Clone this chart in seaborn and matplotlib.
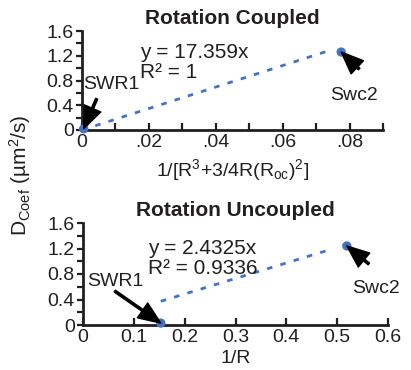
import matplotlib
matplotlib.use("Agg")
import matplotlib.pyplot as plt
import seaborn as sns
import numpy as np
import pandas as pd

# data
proteins = ["SWR1", "Swc2"]
coupled_x = [0.0005, 0.0775]
coupled_y = [0.02, 1.26]
coupled_slope = 17.359
coupled_r2 = "1"
coupled_trend_x = [0.0, 0.0735]

uncoupled_x = [0.153, 0.519]
uncoupled_y = [0.03, 1.24]
uncoupled_slope = 2.4325
uncoupled_r2 = "0.9336"
uncoupled_trend_x = [0.153, 0.49]

dot_blue = "#4472C4"
ink = "#231F20"

sns.set_style("ticks")
plt.rcParams["font.family"] = ["Liberation Sans", "DejaVu Sans"]
plt.rcParams["mathtext.fontset"] = "custom"
plt.rcParams["mathtext.rm"] = "Liberation Sans"
plt.rcParams["mathtext.it"] = "Liberation Sans:italic"
plt.rcParams["text.color"] = ink
plt.rcParams["axes.labelcolor"] = ink

fig = plt.figure(figsize=(4.11, 3.70), dpi=100)
ax1 = fig.add_axes([82 / 411, 1 - 130 / 370, 301 / 411, 99 / 370])
ax2 = fig.add_axes([83 / 411, 1 - 325 / 370, 305 / 411, 102 / 370])


def draw_panel(ax, xs, ys, slope, x_trend, title, xlabel, labelpad):
    df = pd.DataFrame({"x": xs, "y": ys, "name": proteins})
    trend = pd.DataFrame({"x": x_trend, "y": slope * np.array(x_trend)})
    sns.lineplot(data=trend, x="x", y="y", ax=ax, color=dot_blue, lw=2,
                 linestyle=(0, (2, 3)))
    sns.scatterplot(data=df, x="x", y="y", ax=ax, color=dot_blue, s=45,
                    edgecolor="none", zorder=5, clip_on=False)
    sns.despine(ax=ax)
    for side in ["left", "bottom"]:
        ax.spines[side].set_linewidth(2)
        ax.spines[side].set_color(ink)
    ax.set_ylim(0, 1.6)
    ax.set_yticks([0, 0.4, 0.8, 1.2, 1.6])
    ax.set_yticklabels(["0", "0.4", "0.8", "1.2", "1.6"])
    ax.set_yticks(np.arange(0, 1.61, 0.2), minor=True)
    ax.tick_params(axis="y", which="both", direction="out", length=4, width=1.6,
                   labelsize=14, pad=2, color=ink, labelcolor=ink)
    ax.tick_params(axis="x", which="both", direction="in", length=5, width=1.6,
                   labelsize=14, pad=3, color=ink, labelcolor=ink)
    ax.set_xlabel(xlabel, fontsize=14, labelpad=labelpad)
    ax.set_ylabel("")
    ax.set_title(title, fontsize=15, fontweight="bold", pad=5)
    return df


df1 = draw_panel(ax1, coupled_x, coupled_y, coupled_slope, coupled_trend_x,
                 "Rotation Coupled", r"1/[R$^3$+3/4R(R$_{\mathrm{oc}}$)$^2$]", 4)
ax1.set_xlim(0, 0.09)
ax1.set_xticks(np.arange(0, 0.0901, 0.01))
ax1.set_xticklabels(["0", "", ".02", "", ".04", "", ".06", "", ".08", ""])

df2 = draw_panel(ax2, uncoupled_x, uncoupled_y, uncoupled_slope, uncoupled_trend_x,
                 "Rotation Uncoupled", "1/R", 3)
ax2.set_xlim(0, 0.6)
ax2.set_xticks([0, 0.1, 0.2, 0.3, 0.4, 0.5, 0.6])
ax2.set_xticklabels(["0", "0.1", "0.2", "0.3", "0.4", "0.5", "0.6"])

# regression equations
fig.text(140 / 411, 1 - 53 / 370, f"y = {coupled_slope}x", fontsize=15, va="center")
fig.text(140 / 411, 1 - 72 / 370, f"R² = {coupled_r2}", fontsize=15, va="center")
fig.text(148 / 411, 1 - 248 / 370, f"y = {uncoupled_slope}x", fontsize=15, va="center")
fig.text(148 / 411, 1 - 268 / 370, f"R² = {uncoupled_r2}", fontsize=15, va="center")

arrow = dict(facecolor="black", edgecolor="black", width=1.6, headwidth=13,
             headlength=16, shrink=0)


def label_point(ax, df, i, text_px, tail_px):
    x, y = df.loc[i, "x"], df.loc[i, "y"]
    ax.annotate("", xy=(x, y), xytext=tail_px, textcoords="offset pixels",
                arrowprops=arrow, zorder=6)
    ax.annotate(df.loc[i, "name"], xy=(x, y), xytext=text_px,
                textcoords="offset pixels", fontsize=14, ha="center", va="center")


# top panel labels
label_point(ax1, df1, 0, (28, 44), (13, 30))
label_point(ax1, df1, 1, (13, -43), (18, -17))
# bottom panel labels
label_point(ax2, df2, 0, (-45, 42), (-46, 32))
label_point(ax2, df2, 1, (29, -43), (22, -18))

fig.text(20 / 411, 1 - 175 / 370, r"D$_{\mathrm{Coef}}$ (µm$^2$/s)", fontsize=15,
         rotation=90, ha="center", va="center")

fig.savefig("out.png", dpi=100)
